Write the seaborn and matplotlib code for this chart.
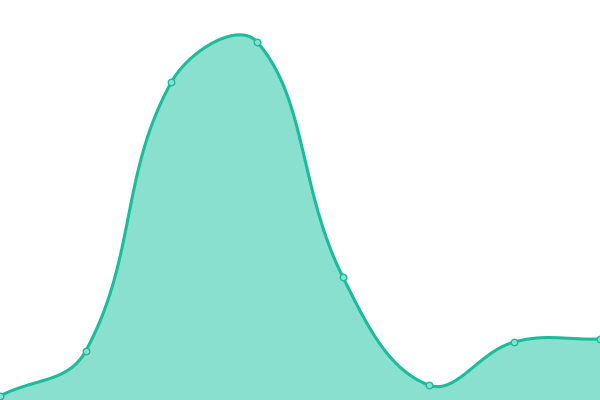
import numpy as np
import pandas as pd
import matplotlib
matplotlib.use("Agg")
import matplotlib.pyplot as plt
import seaborn as sns

# donnees
positions = [0, 1, 2, 3, 4, 5, 6, 7]
valeurs = [4, 49, 318, 358, 123, 15, 58, 61]

LINE = "#1abc9c"
FILL = "#8ae0cf"
TENSION = 0.4


# courbe lissee par points de controle (tension), calcul en pixels
def courbe_lisse(xs, ys, t=TENSION, n=40):
    px = np.array(xs, float) * 600 / 7
    py = np.array(ys, float)
    k = len(px)
    cp_prev, cp_next = [], []
    for i in range(k):
        a = (px[max(i - 1, 0)], py[max(i - 1, 0)])
        m = (px[i], py[i])
        b = (px[min(i + 1, k - 1)], py[min(i + 1, k - 1)])
        d01 = np.hypot(m[0] - a[0], m[1] - a[1])
        d12 = np.hypot(b[0] - m[0], b[1] - m[1])
        s01 = d01 / (d01 + d12)
        s12 = d12 / (d01 + d12)
        fa, fb = t * s01, t * s12
        cp_prev.append((m[0] - fa * (b[0] - a[0]), min(max(m[1] - fa * (b[1] - a[1]), 0), 400)))
        cp_next.append((m[0] + fb * (b[0] - a[0]), min(max(m[1] + fb * (b[1] - a[1]), 0), 400)))
    u = np.linspace(0, 1, n, endpoint=False)
    out_x, out_y = [], []
    for i in range(k - 1):
        p0 = (px[i], py[i])
        p1 = cp_next[i]
        p2 = cp_prev[i + 1]
        p3 = (px[i + 1], py[i + 1])
        for j, out in ((0, out_x), (1, out_y)):
            out.extend((1 - u)**3 * p0[j] + 3 * (1 - u)**2 * u * p1[j]
                       + 3 * (1 - u) * u**2 * p2[j] + u**3 * p3[j])
    out_x.append(px[-1])
    out_y.append(py[-1])
    return np.array(out_x) * 7 / 600, np.array(out_y)


sns.set_style("white")
df = pd.DataFrame({"x": positions, "y": valeurs})
cx, cy = courbe_lisse(positions, valeurs)
courbe = pd.DataFrame({"x": cx, "y": cy})

fig = plt.figure(figsize=(6, 4), dpi=100)
ax = fig.add_axes([0, 0, 1, 1])
ax.fill_between(cx, 0, cy, color=FILL, lw=0)
sns.lineplot(data=courbe, x="x", y="y", sort=False, color=LINE, lw=2.2, ax=ax)
sns.scatterplot(data=df, x="x", y="y", s=22, color=FILL, edgecolor=LINE,
                linewidth=1, zorder=5, ax=ax, clip_on=False)
ax.set_xlim(0, 7)
ax.set_ylim(0, 400)
ax.axis("off")
fig.savefig("out.png", dpi=100)
